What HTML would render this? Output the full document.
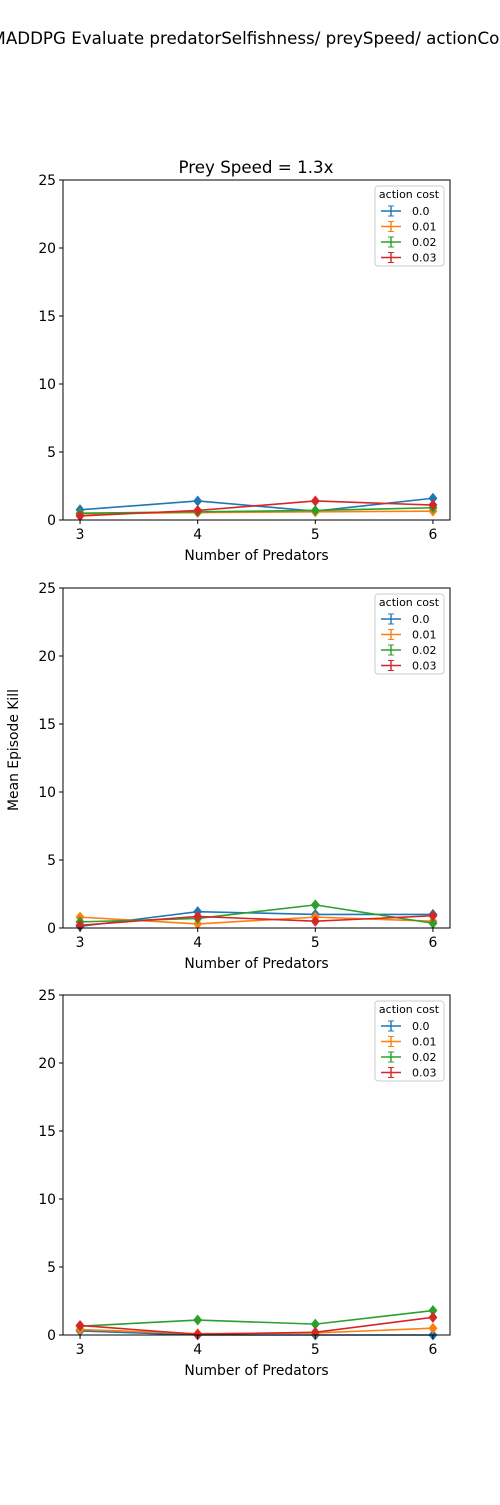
<!DOCTYPE html>
<html><head><meta charset="utf-8"><style>
body{margin:0;background:#fff;width:500px;height:1500px;overflow:hidden}
svg{font-family:"DejaVu Sans","Liberation Sans",sans-serif}
</style></head><body>
<svg id="s" width="500" height="1500" xmlns="http://www.w3.org/2000/svg">
<text x="253" y="44" font-size="16.7" text-anchor="middle">MADDPG Evaluate predatorSelfishness/ preySpeed/ actionCost</text>
<text x="256" y="173" font-size="16.7" text-anchor="middle">Prey Speed = 1.3x</text>
<text x="18" y="750" font-size="13.9" text-anchor="middle" transform="rotate(-90 18 750)">Mean Episode Kill</text>
</svg>
<script>
const categories=[3,4,5,6];
const seriesNames=["0.0","0.01","0.02","0.03"];
const colors=["#1f77b4","#ff7f0e","#2ca02c","#d62728"];
const yTicks=[0,5,10,15,20,25];
const panel1Blue=[0.75,1.4,0.65,1.6];
const panel1Orange=[0.45,0.55,0.6,0.65];
const panel1Green=[0.5,0.6,0.7,0.9];
const panel1Red=[0.3,0.7,1.4,1.1];
const panel2Blue=[0.12,1.2,1.0,1.0];
const panel2Orange=[0.8,0.3,0.8,0.5];
const panel2Green=[0.45,0.7,1.7,0.35];
const panel2Red=[0.2,0.85,0.5,0.9];
const panel3Blue=[0.3,0.0,0.0,0.0];
const panel3Orange=[0.4,0.1,0.15,0.5];
const panel3Green=[0.65,1.1,0.8,1.8];
const panel3Red=[0.7,0.05,0.2,1.3];
const panels=[[panel1Blue,panel1Orange,panel1Green,panel1Red],[panel2Blue,panel2Orange,panel2Green,panel2Red],[panel3Blue,panel3Orange,panel3Green,panel3Red]];
const tops=[180,588,995];
const NS="http://www.w3.org/2000/svg";
const svg=document.getElementById('s');
function mk(t,a,p){const e=document.createElementNS(NS,t);for(const k in a)e.setAttribute(k,a[k]);(p||svg).appendChild(e);return e;}
const L=63,R=450,H=340,xmin=2.855,xmax=6.145;
const xs=v=>L+(v-xmin)/(xmax-xmin)*(R-L);
panels.forEach((series,pi)=>{
  const top=tops[pi],bot=top+H;
  const ys=v=>bot-v/25*H;
  const g=mk('g',{});
  
  
  series.forEach((vals,si)=>{
    const pts=categories.map((c,i)=>xs(c)+','+ys(vals[i])).join(' ');
    const pl=mk('polyline',{points:pts,fill:'none',stroke:colors[si],'stroke-width':1.6},g);
    
    
    categories.forEach((c,i)=>{
      const x=xs(c),y=ys(vals[i]);
      const m=mk('polygon',{points:`${x},${y-5.5} ${x+4.5},${y} ${x},${y+5.5} ${x-4.5},${y}`,fill:colors[si]},g);
      
      
    });
  });
  const fr=mk('rect',{x:L,y:top,width:R-L,height:H,fill:'none',stroke:'#000','stroke-width':1},g);
  
  
  yTicks.forEach(t=>{
    const y=ys(t);
    mk('line',{x1:L-4,x2:L,y1:y,y2:y,stroke:'#000'},g);
    const tx=mk('text',{x:L-7,y:y+5,'font-size':13.9,'text-anchor':'end'},g);tx.textContent=t;
    
    
  });
  categories.forEach(c=>{
    const x=xs(c);
    mk('line',{x1:x,x2:x,y1:bot,y2:bot+4,stroke:'#000'},g);
    const tx=mk('text',{x:x,y:bot+19,'font-size':13.9,'text-anchor':'middle'},g);tx.textContent=c;
    
    
  });
  const xt=mk('text',{x:(L+R)/2,y:bot+40,'font-size':13.9,'text-anchor':'middle'},g);xt.textContent='Number of Predators';
  
  
  const lg=mk('g',{},g);
  
  
  mk('rect',{x:375,y:top+6,width:69,height:80,rx:3,fill:'#fff',stroke:'#ccc'},lg);
  const lt=mk('text',{x:409,y:top+18,'font-size':11,'text-anchor':'middle'},lg);lt.textContent='action cost';
  seriesNames.forEach((n,si)=>{
    const y=top+31+si*15.5;
    mk('line',{x1:381,x2:401,y1:y,y2:y,stroke:colors[si],'stroke-width':1.6},lg);
    mk('line',{x1:391,x2:391,y1:y-5,y2:y+5,stroke:colors[si],'stroke-width':1.4},lg);
    mk('line',{x1:388,x2:394,y1:y-5,y2:y-5,stroke:colors[si]},lg);
    mk('line',{x1:388,x2:394,y1:y+5,y2:y+5,stroke:colors[si]},lg);
    const et=mk('text',{x:412,y:y+4,'font-size':11},lg);et.textContent=n;
    
    
  });
});
</script>
</body></html>
